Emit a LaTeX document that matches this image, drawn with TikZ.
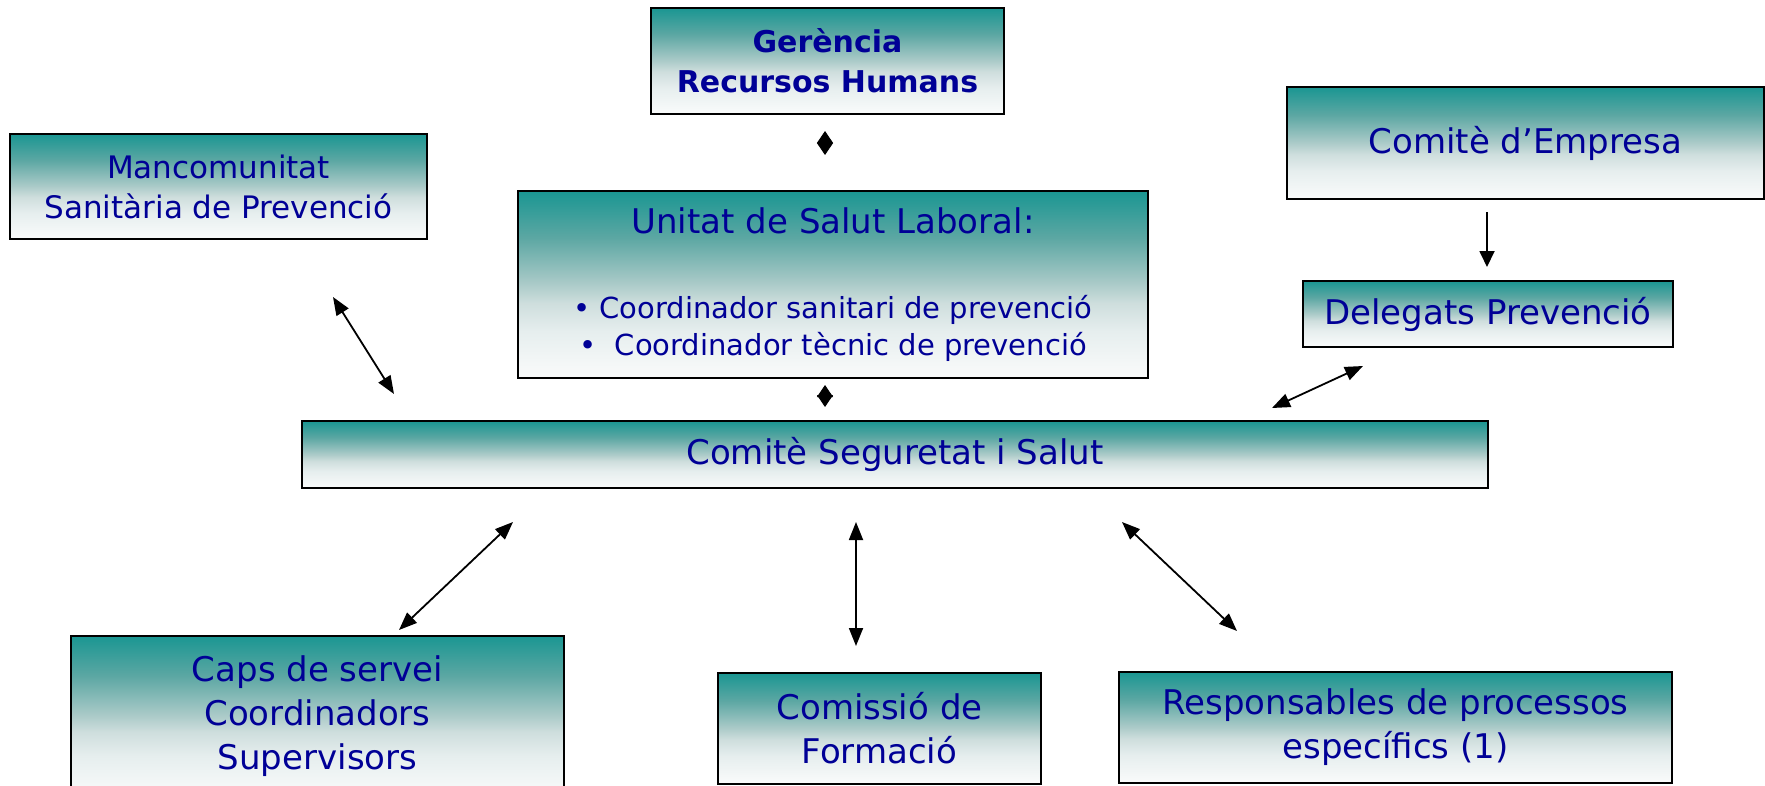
\documentclass[tikz,border=0pt]{standalone}
\usepackage{fontspec}
\setmainfont{DejaVu Sans}
\usetikzlibrary{arrows.meta}
\definecolor{boxteal}{RGB}{26,150,146}
\definecolor{boxqa}{RGB}{92,167,163}
\definecolor{boxmid}{RGB}{172,203,201}
\definecolor{boxqb}{RGB}{206,222,221}
\definecolor{boxqc}{RGB}{230,238,238}
\definecolor{boxlow}{RGB}{250,251,251}
\definecolor{boxtext}{RGB}{0,0,150}
% teal fading to white, top to bottom
\pgfdeclareverticalshading{boxfade}{100bp}{color(0bp)=(boxlow); color(25bp)=(boxlow);
  color(37.5bp)=(boxqc); color(45bp)=(boxqb); color(50bp)=(boxmid); color(62.5bp)=(boxqa);
  color(75bp)=(boxteal); color(100bp)=(boxteal)}
\tikzset{
  orgbox/.style={draw=black, line width=2pt, shading=boxfade,
    text=boxtext, align=center, inner sep=0pt, anchor=north west,
    font=\fontsize{34}{44}\selectfont},
  twoway/.style={line width=1.8pt, {Triangle[length=18pt,width=14pt]}-{Triangle[length=18pt,width=14pt]}},
  oneway/.style={line width=1.8pt, -{Triangle[length=16pt,width=15pt]}},
  diamondlink/.style={line width=1pt, {Triangle[length=12pt,width=16pt]}-{Triangle[length=12pt,width=16pt]}},
}

\begin{document}
\begin{tikzpicture}[x=1pt,y=-1pt]
\useasboundingbox (0,0) rectangle (1765,785);
% top row
\node[orgbox, minimum width=353pt, minimum height=106pt, font=\bfseries\fontsize{30}{40}\selectfont] (gerencia) at (650,7) {Gerència\\Recursos Humans};
\node[orgbox, minimum width=417pt, minimum height=105pt, font=\fontsize{31}{40}\selectfont] (mancom) at (9,133) {Mancomunitat\\Sanitària de Prevenció};
\node[orgbox, minimum width=477pt, minimum height=112pt] (empresa) at (1286,86) {Comitè d’Empresa};
% middle
\node[orgbox, minimum width=630pt, minimum height=187pt, font=\fontsize{29}{37}\selectfont] (unitat) at (517,190) {{\fontsize{34}{44}\selectfont Unitat de Salut Laboral:}\\[48pt]• Coordinador sanitari de prevenció\\•\ \ Coordinador tècnic de prevenció};
\node[orgbox, minimum width=370pt, minimum height=66pt] (delegats) at (1302,280) {Delegats Prevenció};
\node[orgbox, minimum width=1186pt, minimum height=67pt] (comite) at (301,420) {Comitè Seguretat i Salut};
% bottom row
\node[orgbox, minimum width=493pt, minimum height=160pt] (caps) at (70,635) {Caps de servei\\Coordinadors\\Supervisors};
\node[orgbox, minimum width=323pt, minimum height=111pt] (comissio) at (717,672) {Comissió de\\Formació};
\node[orgbox, minimum width=553pt, minimum height=111pt] (responsables) at (1118,671) {Responsables de processos\\específics (1)};
% link ends
\coordinate (gerU) at (825,131);
\coordinate (unitD) at (825,155);
\coordinate (unitU) at (825,385);
\coordinate (comU) at (825,407);
\coordinate (mancA) at (333,297);
\coordinate (mancB) at (394,394);
\coordinate (empA) at (1487,212);
\coordinate (empB) at (1487,267);
\coordinate (delA) at (1363,366);
\coordinate (delB) at (1272,408);
\coordinate (capsA) at (513,522);
\coordinate (capsB) at (399,630);
\coordinate (formA) at (856,522);
\coordinate (formB) at (856,646);
\coordinate (respA) at (1122,522);
\coordinate (respB) at (1237,631);
% links
\draw[diamondlink] (gerU) -- (unitD);
\draw[diamondlink] (unitU) -- (comU);
\draw[twoway] (mancA) -- (mancB);
\draw[oneway] (empA) -- (empB);
\draw[twoway] (delA) -- (delB);
\draw[twoway] (capsA) -- (capsB);
\draw[twoway] (formA) -- (formB);
\draw[twoway] (respA) -- (respB);
\end{tikzpicture}
\end{document}
